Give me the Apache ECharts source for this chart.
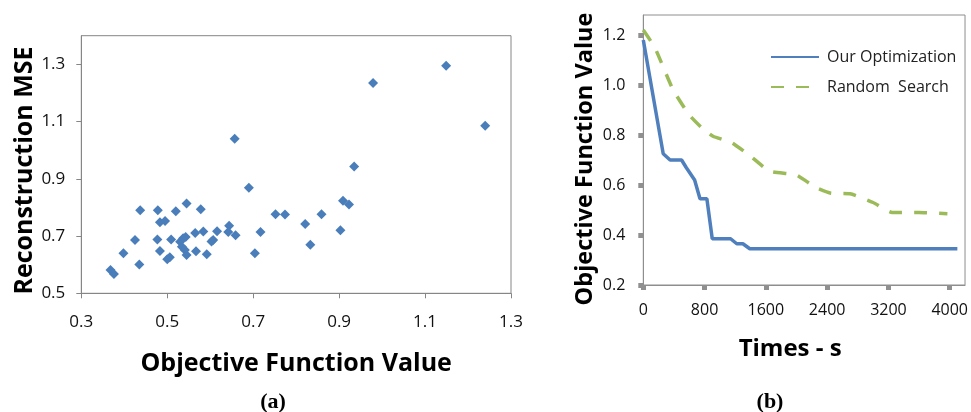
<!DOCTYPE html>
<html>
<head>
<meta charset="utf-8">
<script src="https://cdn.jsdelivr.net/npm/echarts@6/dist/echarts.min.js"></script>
<style>
html,body{margin:0;padding:0;background:#fff;}
#chart{width:971px;height:412px;}
</style>
</head>
<body>
<div id="chart"></div>
<script>
// ---- Panel (a): scatter ----
const scatterPoints = [
  [1.149,1.295],[0.979,1.235],[1.240,1.085],[0.657,1.040],[0.935,0.943],
  [0.690,0.869],[0.909,0.823],[0.923,0.810],[0.545,0.814],[0.437,0.790],
  [0.478,0.790],[0.578,0.794],[0.520,0.787],[0.483,0.748],[0.495,0.753],
  [0.752,0.776],[0.774,0.775],[0.859,0.776],[0.821,0.742],[0.903,0.720],
  [0.833,0.670],[0.644,0.736],[0.642,0.714],[0.659,0.703],[0.717,0.714],
  [0.704,0.640],[0.616,0.717],[0.584,0.716],[0.565,0.711],[0.543,0.697],
  [0.537,0.692],[0.530,0.680],[0.509,0.688],[0.477,0.688],[0.425,0.686],
  [0.607,0.686],[0.603,0.681],[0.534,0.663],[0.541,0.651],[0.545,0.634],
  [0.567,0.647],[0.592,0.636],[0.483,0.648],[0.398,0.640],[0.506,0.626],
  [0.500,0.619],[0.435,0.601],[0.368,0.581],[0.376,0.567]
];
const scatterXTicks = [0.3,0.5,0.7,0.9,1.1,1.3];
const scatterYTicks = [0.5,0.7,0.9,1.1,1.3];

// ---- Panel (b): convergence lines ----
const ourOptimization = [
  [0,1.18],[260,0.725],[350,0.70],[500,0.70],[560,0.67],[670,0.62],[740,0.545],
  [830,0.545],[900,0.385],[1140,0.385],[1220,0.365],[1300,0.365],[1390,0.345],[4100,0.345]
];
const randomSearch = [
  [0,1.22],[150,1.15],[390,0.98],[600,0.88],[760,0.83],[910,0.795],[1150,0.77],
  [1400,0.715],[1650,0.655],[2000,0.64],[2250,0.59],[2450,0.567],[2700,0.565],
  [3000,0.53],[3250,0.49],[3600,0.49],[3970,0.485]
];
const lineXTicks = [0,800,1600,2400,3200,4000];
const lineYTicks = [0.2,0.4,0.6,0.8,1.0,1.2];
const seriesNames = ['Our Optimization','Random  Search'];

const chart = echarts.init(document.getElementById('chart'), null, {renderer:'canvas'});
const labelFont = 'Open Sans';
const gray = '#868686';

const option = {
  backgroundColor:'#fff',
  animation:false,
  title:[
    {text:'(a)', left:268, top:386, textAlign:'center',
     textStyle:{fontFamily:'Liberation Serif', fontWeight:'bold', fontSize:22, color:'#000'}},
    {text:'(b)', left:765, top:386, textAlign:'center',
     textStyle:{fontFamily:'Liberation Serif', fontWeight:'bold', fontSize:22, color:'#000'}}
  ],
  legend:{
    data:seriesNames, orient:'vertical', left:765, top:44,
    itemWidth:48, itemHeight:14, itemGap:14,
    itemStyle:{opacity:0},
    textStyle:{fontFamily:labelFont, fontSize:16, color:'#222', padding:[0,0,0,3]}
  },
  grid:[
    {left:81.3, top:35.7, width:429.7, height:257.6, show:true, borderColor:gray, borderWidth:1, backgroundColor:'transparent'},
    {left:643.3, top:15, width:324.4, height:270, show:true, borderColor:'#8e8e8e', borderWidth:1, backgroundColor:'transparent'}
  ],
  xAxis:[
    {gridIndex:0, type:'value', min:0.3, max:1.3, interval:0.2,
     name:'Objective Function Value', nameLocation:'middle', nameGap:58,
     nameTextStyle:{fontFamily:labelFont, fontWeight:'bold', fontSize:25, color:'#000'},
     axisLine:{lineStyle:{color:gray, width:1}},
     axisTick:{show:true, length:5, lineStyle:{color:gray, width:1}},
     axisLabel:{fontFamily:labelFont, fontSize:17, color:'#111', margin:20,
       formatter:v=>v.toFixed(1)},
     splitLine:{show:false}},
    {gridIndex:1, type:'value', min:0, max:4200, interval:800,
     name:'Times - s', nameLocation:'middle', nameGap:52,
     nameTextStyle:{fontFamily:labelFont, fontWeight:'bold', fontSize:24, color:'#000', padding:[0,28,0,0]},
     axisLine:{lineStyle:{color:'#8e8e8e', width:1}},
     axisTick:{show:true, length:5, customValues:lineXTicks, lineStyle:{color:'#909090', width:5}},
     axisLabel:{fontFamily:labelFont, fontSize:16, color:'#111', margin:17, customValues:lineXTicks,
       formatter:v=>String(v)},
     splitLine:{show:false}}
  ],
  yAxis:[
    {gridIndex:0, type:'value', min:0.5, max:1.4, interval:0.2,
     name:'Reconstruction MSE', nameLocation:'middle', nameGap:42,
     nameTextStyle:{fontFamily:labelFont, fontWeight:'bold', fontSize:25, color:'#000', padding:[0,12,0,0]},
     axisLine:{show:true, lineStyle:{color:gray, width:1}},
     axisTick:{show:true, length:5, customValues:scatterYTicks, lineStyle:{color:gray, width:1}},
     axisLabel:{fontFamily:labelFont, fontSize:17, color:'#111', margin:16, customValues:scatterYTicks,
       formatter:v=>v.toFixed(1)},
     splitLine:{show:false}},
    {gridIndex:1, type:'value', min:0.2, max:1.28, interval:0.2,
     name:'Objective Function Value', nameLocation:'middle', nameGap:46,
     nameTextStyle:{fontFamily:labelFont, fontWeight:'bold', fontSize:23.5, color:'#000', padding:[0,18,0,0]},
     axisLine:{show:true, lineStyle:{color:'#8e8e8e', width:1}},
     axisTick:{show:true, length:5, customValues:lineYTicks, lineStyle:{color:'#909090', width:5}},
     axisLabel:{fontFamily:labelFont, fontSize:16, color:'#111', margin:18, customValues:lineYTicks,
       formatter:v=>v.toFixed(1)},
     splitLine:{show:false}}
  ],
  series:[
    {type:'scatter', xAxisIndex:0, yAxisIndex:0, data:scatterPoints,
     symbol:'diamond', symbolSize:10, itemStyle:{color:'#4a7ebb', opacity:1}},
    {type:'line', name:seriesNames[0], xAxisIndex:1, yAxisIndex:1, data:ourOptimization,
     symbol:'none', lineStyle:{color:'#4f7fbc', width:3.5}, itemStyle:{color:'#4f7fbc'}},
    {type:'line', name:seriesNames[1], xAxisIndex:1, yAxisIndex:1, data:randomSearch,
     symbol:'none', smooth:0.15, lineStyle:{color:'#9bbb59', width:3.5, type:[13,12]}, itemStyle:{color:'#9bbb59'}}
  ]
};
chart.setOption(option);
</script>
</body>
</html>
